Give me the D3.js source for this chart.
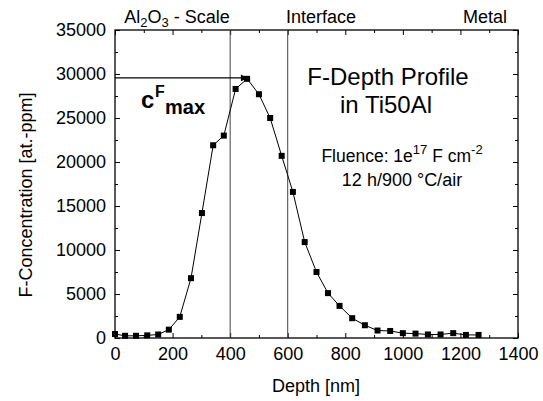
<!DOCTYPE html>
<html><head><meta charset="utf-8">
<script src="https://cdn.jsdelivr.net/npm/d3@7"></script>
<style>
body{margin:0;background:#fff;}
svg text{font-family:Arial,"Liberation Sans",Helvetica,sans-serif;fill:#000;}
</style></head>
<body><svg id="c" width="543" height="401"></svg>
<script>
const depth = [0,35,73,112,150,187,225,264,302,341,378,419,459,500,539,579,618,659,700,740,780,824,868,912,956,1000,1044,1087,1131,1175,1219,1263];
const conc  = [450,250,250,300,400,950,2400,6800,14200,21900,23000,28300,29450,27700,25000,20700,16600,10900,7500,5100,3650,2250,1450,850,800,550,500,400,400,550,350,350];
const xTicks = [0,200,400,600,800,1000,1200,1400];
const yTicks = [0,5000,10000,15000,20000,25000,30000,35000];
const interfaceLines = [400,600];
const cFmax = 29550;

(function(){
const svg = d3.select("#c");
const m = {l:115,r:518,t:30,b:338};
const x = d3.scaleLinear().domain([0,1400]).range([m.l,m.r]);
const y = d3.scaleLinear().domain([0,35000]).range([m.b,m.t]);

svg.append("rect").attr("x",m.l).attr("y",m.t).attr("width",m.r-m.l).attr("height",m.b-m.t)
  .attr("fill","none").attr("stroke","#000").attr("stroke-width",1.3);

const fmt = d3.format("d");
svg.append("g").attr("class","ax").attr("transform",`translate(0,${m.b})`)
  .call(d3.axisBottom(x).tickValues(xTicks).tickSize(-5).tickPadding(9).tickFormat(fmt));
svg.append("g").attr("transform",`translate(0,${m.t})`)
  .call(d3.axisTop(x).tickValues(xTicks).tickSize(-5).tickFormat(""));
svg.append("g").attr("class","ax").attr("transform",`translate(${m.l},0)`)
  .call(d3.axisLeft(y).tickValues(yTicks).tickSize(-5).tickPadding(9).tickFormat(fmt));
svg.append("g").attr("transform",`translate(${m.r},0)`)
  .call(d3.axisRight(y).tickValues(yTicks).tickSize(-5).tickFormat(""));
const xMinor = d3.range(100,1400,200);
const yMinor = d3.range(2500,35000,5000);
svg.append("g").attr("transform",`translate(0,${m.b})`).call(d3.axisBottom(x).tickValues(xMinor).tickSize(-3).tickFormat(""));
svg.append("g").attr("transform",`translate(0,${m.t})`).call(d3.axisTop(x).tickValues(xMinor).tickSize(-3).tickFormat(""));
svg.append("g").attr("transform",`translate(${m.l},0)`).call(d3.axisLeft(y).tickValues(yMinor).tickSize(-3).tickFormat(""));
svg.append("g").attr("transform",`translate(${m.r},0)`).call(d3.axisRight(y).tickValues(yMinor).tickSize(-3).tickFormat(""));
svg.selectAll(".domain").remove();
svg.selectAll(".tick line").attr("stroke","#000").attr("stroke-width",1);
svg.selectAll(".tick text").style("font-size","18px").attr("fill","#000");

svg.selectAll(".vl").data(interfaceLines).enter().append("line")
  .attr("x1",d=>x(d)).attr("x2",d=>x(d)).attr("y1",m.t).attr("y2",m.b)
  .attr("stroke","#444").attr("stroke-width",1);

svg.append("path").datum(depth.map((d,i)=>[d,conc[i]]))
  .attr("fill","none").attr("stroke","#000").attr("stroke-width",1)
  .attr("d",d3.line().x(d=>x(d[0])).y(d=>y(d[1])));
svg.selectAll(".pt").data(depth).enter().append("rect")
  .attr("x",(d)=>x(d)-3).attr("y",(d,i)=>y(conc[i])-3).attr("width",6).attr("height",6).attr("fill","#000");

svg.append("defs").append("marker").attr("id","ah").attr("viewBox","0 0 10 10")
  .attr("refX",10).attr("refY",5).attr("markerWidth",9).attr("markerHeight",7).attr("orient","auto")
  .attr("markerUnits","userSpaceOnUse")
  .append("path").attr("d","M0,0 L10,5 L0,10 z").attr("fill","#000");
svg.append("line").attr("x1",x(0)).attr("x2",x(465)-1).attr("y1",y(cFmax)).attr("y2",y(cFmax))
  .attr("stroke","#000").attr("stroke-width",1.2).attr("marker-end","url(#ah)");

svg.append("text").attr("x",316).attr("y",392).attr("text-anchor","middle").style("font-size","18px").text("Depth [nm]");
svg.append("text").attr("transform",`translate(32,195) rotate(-90)`).attr("text-anchor","middle").style("font-size","18px").text("F-Concentration [at.-ppm]");

const t1 = svg.append("text").attr("x",177).attr("y",23).attr("text-anchor","middle").style("font-size","18px");
t1.append("tspan").text("Al");
t1.append("tspan").attr("dy",4).style("font-size","13px").text("2");
t1.append("tspan").attr("dy",-4).text("O");
t1.append("tspan").attr("dy",4).style("font-size","13px").text("3");
t1.append("tspan").attr("dy",-4).text(" - Scale");
svg.append("text").attr("x",321).attr("y",23).attr("text-anchor","middle").style("font-size","18px").text("Interface");
svg.append("text").attr("x",507).attr("y",23).attr("text-anchor","end").style("font-size","18px").text("Metal");

svg.append("text").attr("x",388).attr("y",85).attr("text-anchor","middle").style("font-size","24px").text("F-Depth Profile");
svg.append("text").attr("x",386).attr("y",113).attr("text-anchor","middle").style("font-size","24px").text("in Ti50Al");
const fl = svg.append("text").attr("x",402).attr("y",162).attr("text-anchor","middle").style("font-size","17.5px");
fl.append("tspan").text("Fluence: 1e");
fl.append("tspan").attr("dy",-8).style("font-size","13px").text("17");
fl.append("tspan").attr("dy",8).text(" F cm");
fl.append("tspan").attr("dy",-8).style("font-size","13px").text("-2");
svg.append("text").attr("x",402).attr("y",186).attr("text-anchor","middle").style("font-size","18px").text("12 h/900 °C/air");

svg.append("text").attr("x",141).attr("y",108).style("font-size","24px").style("font-weight","bold").text("c");
svg.append("text").attr("x",155).attr("y",97).style("font-size","16px").style("font-weight","bold").text("F");
svg.append("text").attr("x",165).attr("y",114).style("font-size","20px").style("font-weight","bold").text("max");
})();
</script></body></html>
